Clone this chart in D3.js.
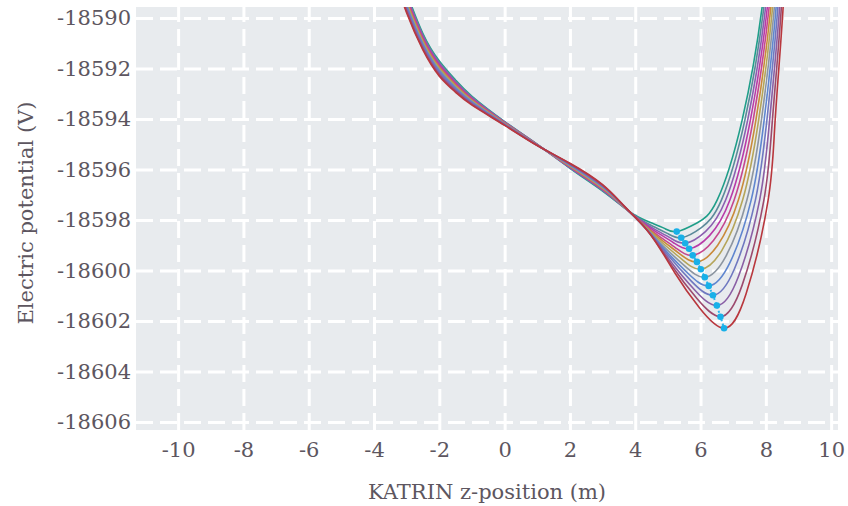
<!DOCTYPE html>
<html>
<head>
<meta charset="utf-8">
<script src="https://cdn.jsdelivr.net/npm/d3@7"></script>
<style>
  body { margin: 0; background: #fff; }
  text { font-family: "DejaVu Serif", serif; fill: #5d5660; }
</style>
</head>
<body>
<div id="chart"></div>
<script>
// tick values
var xTicks = [-10, -8, -6, -4, -2, 0, 2, 4, 6, 8, 10];
var yTicks = [-18590, -18592, -18594, -18596, -18598, -18600, -18602, -18604, -18606];

// left part of every curve, read on a common z grid (m)
var zLeft = [-3.4, -3, -2.5, -2, -1.5, -1, 0, 1, 2, 3, 3.7];
var vLeft = [
  [-18587.55, -18589.00, -18590.62, -18591.70, -18592.46, -18593.10, -18594.10, -18595.00, -18595.95, -18596.85, -18597.55],
  [-18587.61, -18589.07, -18590.67, -18591.75, -18592.50, -18593.13, -18594.11, -18595.00, -18595.93, -18596.83, -18597.55],
  [-18587.67, -18589.13, -18590.73, -18591.80, -18592.54, -18593.16, -18594.12, -18595.01, -18595.92, -18596.81, -18597.54],
  [-18587.73, -18589.20, -18590.78, -18591.85, -18592.58, -18593.19, -18594.14, -18595.01, -18595.90, -18596.79, -18597.54],
  [-18587.78, -18589.27, -18590.84, -18591.90, -18592.62, -18593.22, -18594.15, -18595.02, -18595.88, -18596.77, -18597.53],
  [-18587.84, -18589.33, -18590.89, -18591.95, -18592.66, -18593.25, -18594.16, -18595.02, -18595.87, -18596.75, -18597.53],
  [-18587.90, -18589.40, -18590.95, -18592.00, -18592.70, -18593.28, -18594.18, -18595.03, -18595.85, -18596.73, -18597.53],
  [-18587.96, -18589.47, -18591.00, -18592.05, -18592.74, -18593.30, -18594.19, -18595.03, -18595.83, -18596.70, -18597.52],
  [-18588.02, -18589.53, -18591.05, -18592.10, -18592.78, -18593.33, -18594.20, -18595.03, -18595.82, -18596.68, -18597.52],
  [-18588.08, -18589.60, -18591.11, -18592.15, -18592.82, -18593.36, -18594.21, -18595.04, -18595.80, -18596.66, -18597.51],
  [-18588.13, -18589.67, -18591.16, -18592.20, -18592.86, -18593.39, -18594.22, -18595.04, -18595.78, -18596.64, -18597.51],
  [-18588.19, -18589.73, -18591.22, -18592.25, -18592.90, -18593.42, -18594.24, -18595.05, -18595.77, -18596.62, -18597.50],
  [-18588.25, -18589.80, -18591.27, -18592.30, -18592.94, -18593.45, -18594.25, -18595.05, -18595.75, -18596.60, -18597.50]
];

// right part of every curve (past the crossing), [z, V] pairs
var vRight = [
  [[4.093,-18597.88],[4.485,-18598.11],[4.878,-18598.32],[5.27,-18598.46],[5.889,-18598.12],[6.508,-18597.21],[7.274,-18594.04],[7.887,-18589.56],[8.130,-18586]],
  [[4.128,-18597.95],[4.555,-18598.26],[4.983,-18598.53],[5.41,-18598.70],[6.025,-18598.30],[6.639,-18597.21],[7.358,-18594.04],[7.940,-18589.56],[8.173,-18586]],
  [[4.158,-18598.01],[4.615,-18598.38],[5.073,-18598.71],[5.53,-18598.92],[6.150,-18598.46],[6.769,-18597.21],[7.443,-18594.04],[7.994,-18589.56],[8.214,-18586]],
  [[4.188,-18598.06],[4.675,-18598.50],[5.163,-18598.89],[5.65,-18599.14],[6.275,-18598.62],[6.899,-18597.21],[7.527,-18594.04],[8.047,-18589.56],[8.255,-18586]],
  [[4.215,-18598.12],[4.730,-18598.64],[5.245,-18599.11],[5.76,-18599.40],[6.395,-18598.81],[7.029,-18597.21],[7.611,-18594.04],[8.101,-18589.56],[8.297,-18586]],
  [[4.248,-18598.17],[4.795,-18598.78],[5.343,-18599.32],[5.89,-18599.66],[6.525,-18599.00],[7.159,-18597.21],[7.695,-18594.04],[8.155,-18589.56],[8.339,-18586]],
  [[4.278,-18598.23],[4.855,-18598.93],[5.433,-18599.56],[6.01,-18599.95],[6.650,-18599.21],[7.289,-18597.21],[7.779,-18594.04],[8.208,-18589.56],[8.380,-18586]],
  [[4.308,-18598.29],[4.915,-18599.10],[5.523,-18599.83],[6.13,-18600.27],[6.775,-18599.44],[7.420,-18597.21],[7.864,-18594.04],[8.262,-18589.56],[8.421,-18586]],
  [[4.338,-18598.35],[4.975,-18599.27],[5.613,-18600.11],[6.25,-18600.61],[6.900,-18599.69],[7.550,-18597.21],[7.948,-18594.04],[8.315,-18589.56],[8.462,-18586]],
  [[4.370,-18598.40],[5.040,-18599.45],[5.710,-18600.41],[6.38,-18600.98],[7.030,-18599.96],[7.680,-18597.21],[8.032,-18594.04],[8.369,-18589.56],[8.504,-18586]],
  [[4.400,-18598.45],[5.100,-18599.66],[5.800,-18600.74],[6.50,-18601.39],[7.155,-18600.26],[7.810,-18597.21],[8.116,-18594.04],[8.423,-18589.56],[8.546,-18586]],
  [[4.428,-18598.51],[5.155,-18599.87],[5.883,-18601.10],[6.61,-18601.83],[7.275,-18600.58],[7.940,-18597.21],[8.201,-18594.04],[8.476,-18589.56],[8.586,-18586]],
  [[4.455,-18598.55],[5.210,-18600.09],[5.965,-18601.48],[6.72,-18602.29],[7.395,-18600.92],[8.070,-18597.21],[8.285,-18594.04],[8.530,-18589.56],[8.628,-18586]]
];

// minimum of each curve
var minZ = [5.27, 5.41, 5.53, 5.65, 5.76, 5.89, 6.01, 6.13, 6.25, 6.38, 6.50, 6.61, 6.72];
var minV = [-18598.46, -18598.70, -18598.92, -18599.14, -18599.40, -18599.66, -18599.95,
            -18600.27, -18600.61, -18600.98, -18601.39, -18601.83, -18602.29];

var colors = ["#1f9e89", "#5b8a9a", "#8b5fb0", "#b83aa8", "#c5478f", "#c98a3a", "#b5a55a",
              "#8c95a0", "#5f86cf", "#6f78c0", "#8a5fa5", "#9c4a6e", "#b9373d"];

var w = 848, h = 506;
var plotL = 136, plotR = 838, plotT = 7, plotB = 430;

var x = d3.scaleLinear().domain([-11.29, 10.21]).range([plotL, plotR]);
var y = d3.scaleLinear().domain([-18589.56, -18606.32]).range([plotT, plotB]);

var svg = d3.select("#chart").append("svg")
  .attr("width", w)
  .attr("height", h);

svg.append("rect")
  .attr("x", plotL).attr("y", plotT)
  .attr("width", plotR - plotL).attr("height", plotB - plotT)
  .attr("fill", "#e8ebee");

// grid
var gx = svg.append("g")
  .attr("transform", "translate(0," + plotB + ")")
  .call(d3.axisBottom(x).tickValues(xTicks).tickSize(-(plotB - plotT)).tickFormat(""));
var gy = svg.append("g")
  .attr("transform", "translate(" + plotL + ",0)")
  .call(d3.axisLeft(y).tickValues(yTicks).tickSize(-(plotR - plotL)).tickFormat(""));
[gx, gy].forEach(function(g) {
  g.select(".domain").remove();
  g.selectAll("line")
    .attr("stroke", "#fff")
    .attr("stroke-width", 3)
    .attr("stroke-dasharray", "17,7");
});

svg.append("clipPath").attr("id", "plot-clip")
  .append("rect")
  .attr("x", plotL).attr("y", plotT)
  .attr("width", plotR - plotL).attr("height", plotB - plotT);

var line = d3.line()
  .x(function(d) { return x(d[0]); })
  .y(function(d) { return y(d[1]); })
  .curve(d3.curveNatural);

var curves = vLeft.map(function(vals, i) {
  return zLeft.map(function(z, j) { return [z, vals[j]]; }).concat(vRight[i]);
});

svg.append("g")
  .attr("clip-path", "url(#plot-clip)")
  .selectAll("path")
  .data(curves)
  .enter()
  .append("path")
  .attr("d", line)
  .attr("fill", "none")
  .attr("stroke", function(d, i) { return colors[i]; })
  .attr("stroke-width", 1.6);

// minima
var mins = minZ.map(function(z, i) { return [z, minV[i]]; });

svg.append("path")
  .datum(mins)
  .attr("d", d3.line().x(function(d) { return x(d[0]); }).y(function(d) { return y(d[1]); }))
  .attr("fill", "none")
  .attr("stroke", "#29b6ee")
  .attr("stroke-width", 2)
  .attr("stroke-dasharray", "2,2.5");

svg.append("g").selectAll("circle")
  .data(mins)
  .enter()
  .append("circle")
  .attr("cx", function(d) { return x(d[0]); })
  .attr("cy", function(d) { return y(d[1]); })
  .attr("r", 3.3)
  .attr("fill", "#18b0e8");

// tick labels
var ax = svg.append("g")
  .attr("transform", "translate(0," + plotB + ")")
  .call(d3.axisBottom(x).tickValues(xTicks).tickSize(0).tickPadding(12)
    .tickFormat(function(d) { return String(d); }));
var ay = svg.append("g")
  .attr("transform", "translate(" + plotL + ",0)")
  .call(d3.axisLeft(y).tickValues(yTicks).tickSize(0).tickPadding(5)
    .tickFormat(function(d) { return String(d); }));
[ax, ay].forEach(function(g) {
  g.select(".domain").remove();
  g.selectAll("text")
    .attr("font-family", "DejaVu Serif, serif")
    .attr("font-size", 21)
    .attr("fill", "#5d5660");
});

// axis titles
svg.append("text")
  .attr("x", (plotL + plotR) / 2)
  .attr("y", 499)
  .attr("text-anchor", "middle")
  .attr("font-size", 21)
  .text("KATRIN z-position (m)");

svg.append("text")
  .attr("transform", "translate(33," + 213 + ") rotate(-90)")
  .attr("text-anchor", "middle")
  .attr("font-size", 21)
  .text("Electric potential (V)");
</script>
</body>
</html>
